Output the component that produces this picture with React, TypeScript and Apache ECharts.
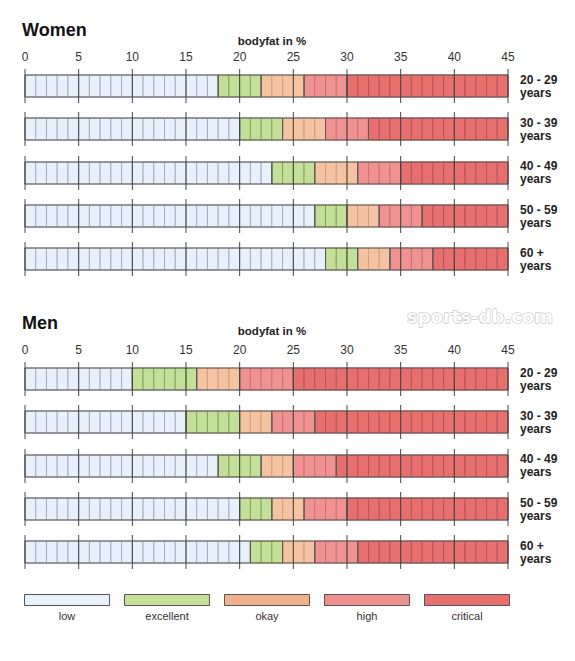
import React, { useEffect, useRef } from "react";
import * as echarts from "echarts";

const ageGroups = ["20 - 29\nyears", "30 - 39\nyears", "40 - 49\nyears", "50 - 59\nyears", "60 +\nyears"];
const categoryNames = ["low", "excellent", "okay", "high", "critical"];
// segment boundaries [low start, excellent start, okay start, high start, critical start, end]
const womenBounds = [
  [0, 18, 22, 26, 30, 45],
  [0, 20, 24, 28, 32, 45],
  [0, 23, 27, 31, 35, 45],
  [0, 27, 30, 33, 37, 45],
  [0, 28, 31, 34, 38, 45],
];
const menBounds = [
  [0, 10, 16, 20, 25, 45],
  [0, 15, 20, 23, 27, 45],
  [0, 18, 22, 25, 29, 45],
  [0, 20, 23, 26, 30, 45],
  [0, 21, 24, 27, 31, 45],
];
const axisMin = 0;
const axisMax = 45;
const axisInterval = 5;

const fills = ["#e8f0fc", "#c4e098", "#f5c3a2", "#ef9291", "#e76f6e"];
const cellLines = ["#a3b0c2", "#86a465", "#cf9f82", "#c97272", "#b95454"];
const legendFills = ["#e8f1fc", "#c4e296", "#f1b18d", "#ee908c", "#e87070"];

const FONT = "'Liberation Sans', Arial, sans-serif";

function makeRender(bounds: number[][]) {
  return (params: any, api: any) => {
    const row = api.value(0);
    const b = bounds[row];
    const center = api.coord([0, row])[1];
    const barH = 22;
    const top = Math.round(center - barH / 2);
    const bottom = top + barH;
    const children: any[] = [];
    for (let s = 0; s < 5; s++) {
      for (let u = b[s]; u < b[s + 1]; u++) {
        const x0 = api.coord([u, row])[0];
        const x1 = api.coord([u + 1, row])[0];
        children.push({
          type: "rect",
          shape: { x: x0, y: top, width: x1 - x0, height: barH },
          style: { fill: fills[s], stroke: cellLines[s], lineWidth: 1 },
        });
      }
    }
    for (let s = 0; s < 5; s++) {
      const x0 = api.coord([b[s], row])[0];
      const x1 = api.coord([b[s + 1], row])[0];
      children.push({
        type: "rect",
        shape: { x: x0, y: top, width: x1 - x0, height: barH },
        style: { fill: "none", stroke: "#5a5a5a", lineWidth: 1 },
      });
    }
    for (let t = axisMin; t <= axisMax; t += axisInterval) {
      const x = api.coord([t, row])[0];
      children.push({
        type: "line",
        shape: { x1: x, y1: top - 6, x2: x, y2: bottom + 6 },
        style: { stroke: "#444", lineWidth: 1 },
      });
    }
    return { type: "group", children };
  };
}

export default function App() {
  const ref = useRef<HTMLDivElement>(null);
  useEffect(() => {
    if (!ref.current) return;
    const chart = echarts.init(ref.current, null, { renderer: "svg" });
    const gridLeft = 25;
    const gridRight = 67;
    const tops = [64.5, 357.5];
    const gridH = 216.5;
    const xAxisBase = {
      type: "value",
      position: "top",
      min: axisMin,
      max: axisMax,
      interval: axisInterval,
      axisLine: { show: false },
      axisTick: { show: false },
      splitLine: { show: false },
      axisLabel: { color: "#333", fontSize: 12, fontFamily: FONT, margin: 2 },
    };
    const yAxisBase = {
      type: "category",
      data: ageGroups,
      inverse: true,
      position: "right",
      axisLine: { show: false },
      axisTick: { show: false },
      splitLine: { show: false },
      axisLabel: {
        color: "#222",
        fontSize: 12,
        fontWeight: "bold",
        fontFamily: FONT,
        lineHeight: 13,
        margin: 12,
        align: "left",
      },
    };
    const rows = ageGroups.map((_, i) => [i]);
    const legendX = [24, 124, 224, 324, 424];
    const legendGraphics: any[] = [];
    categoryNames.forEach((name, i) => {
      legendGraphics.push({
        type: "rect",
        shape: { x: legendX[i] + 0.5, y: 594.5, width: 85, height: 11 },
        style: { fill: legendFills[i], stroke: "#555", lineWidth: 1 },
      });
      legendGraphics.push({
        type: "text",
        x: legendX[i] + 43,
        y: 616,
        style: {
          text: name,
          fill: "#333",
          font: `11px ${FONT}`,
          align: "center",
          verticalAlign: "middle",
        },
      });
    });
    const titleStyle = { fontSize: 18, fontWeight: "bold", color: "#111", fontFamily: FONT };
    chart.setOption({
      animation: false,
      backgroundColor: "#fff",
      title: [
        { text: "Women", left: 22, top: 21, padding: 0, textStyle: titleStyle },
        { text: "Men", left: 22, top: 314, padding: 0, textStyle: titleStyle },
      ],
      grid: tops.map((t) => ({ left: gridLeft, right: gridRight, top: t, height: gridH })),
      xAxis: [
        { ...xAxisBase, gridIndex: 0 },
        { ...xAxisBase, gridIndex: 1 },
      ],
      yAxis: [
        { ...yAxisBase, gridIndex: 0 },
        { ...yAxisBase, gridIndex: 1 },
      ],
      series: [
        { type: "custom", xAxisIndex: 0, yAxisIndex: 0, data: rows, renderItem: makeRender(womenBounds), silent: true },
        { type: "custom", xAxisIndex: 1, yAxisIndex: 1, data: rows, renderItem: makeRender(menBounds), silent: true },
      ],
      graphic: [
        {
          type: "text",
          x: 272,
          y: 41,
          style: { text: "bodyfat in %", fill: "#222", font: `bold 11.5px ${FONT}`, align: "center", verticalAlign: "middle" },
        },
        {
          type: "text",
          x: 272,
          y: 331,
          style: { text: "bodyfat in %", fill: "#222", font: `bold 11.5px ${FONT}`, align: "center", verticalAlign: "middle" },
        },
        {
          type: "text",
          x: 480,
          y: 316,
          style: {
            text: "sports-db.com",
            fill: "#fff",
            stroke: "#b5b5b5",
            lineWidth: 1,
            font: `bold 18px 'DejaVu Sans', ${FONT}`,
            align: "center",
            verticalAlign: "middle",
          },
        },
        ...legendGraphics,
      ],
    });
    return () => chart.dispose();
  }, []);
  return <div ref={ref} style={{ position: "fixed", left: 0, top: 0, width: 575, height: 661 }} />;
}
